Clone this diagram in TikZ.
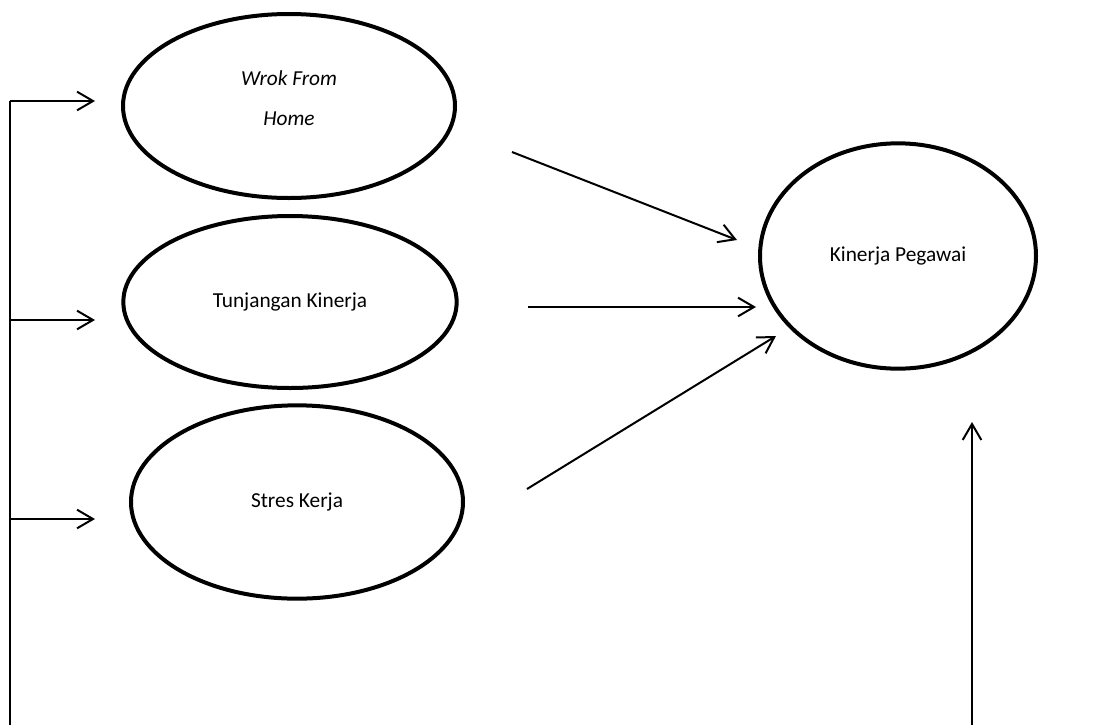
\documentclass[tikz,border=0pt]{standalone}
\usepackage{fontspec}
\setmainfont{Carlito}
\usetikzlibrary{shapes.geometric, arrows.meta}
\tikzstyle{construct} =
[ellipse, draw=black, line width=3pt, inner sep=0pt, align=center,
font=\fontsize{16}{30}\selectfont]
\tikzstyle{line} = [draw, line width=1.5pt, -{Straight Barb[length=12pt,width=14pt]}]
\tikzstyle{wire} = [draw, line width=1.5pt]

\begin{document}
\begin{tikzpicture}[x=0.75pt, y=-0.75pt]
  \useasboundingbox (0,0) rectangle (1099,725);
  % construct nodes
  \node [construct, minimum width=249pt, minimum height=138pt] (wfh) at (289,106)
   {\textit{Wrok From}\\\textit{Home}\\[-18pt]};
  \node [construct, minimum width=250pt, minimum height=129pt] (tk) at (290,302)
   {Tunjangan Kinerja};
  \node [construct, minimum width=249pt, minimum height=145pt] (sk) at (297,502)
   {Stres Kerja};
  \node [construct, minimum width=207pt, minimum height=169pt] (kp) at (898,256)
   {Kinerja Pegawai};
  % connector ends
  \coordinate (wfhout) at (512,152);
  \coordinate (tkout) at (528,307);
  \coordinate (skout) at (527,489);
  \coordinate (kpin1) at (737,240);
  \coordinate (kpin2) at (756,307);
  \coordinate (kpin3) at (776,336);
  \coordinate (kpin4) at (972,422);
  \coordinate (kpfoot) at (972,725);
  \coordinate (tr1) at (10,101);
  \coordinate (tr2) at (10,320);
  \coordinate (tr3) at (10,519);
  \coordinate (trfoot) at (10,725);
  \coordinate (wfhin) at (95,101);
  \coordinate (tkin) at (95,320);
  \coordinate (skin) at (95,519);
  % edges to Kinerja Pegawai
  \path [line] (wfhout) -- (kpin1);
  \path [line] (tkout) -- (kpin2);
  \path [line] (skout) -- (kpin3);
  \path [line] (kpfoot) -- (kpin4);
  % left trunk
  \path [wire] (tr1) -- (trfoot);
  \path [line] (tr1) -- (wfhin);
  \path [line] (tr2) -- (tkin);
  \path [line] (tr3) -- (skin);
\end{tikzpicture}
\end{document}
